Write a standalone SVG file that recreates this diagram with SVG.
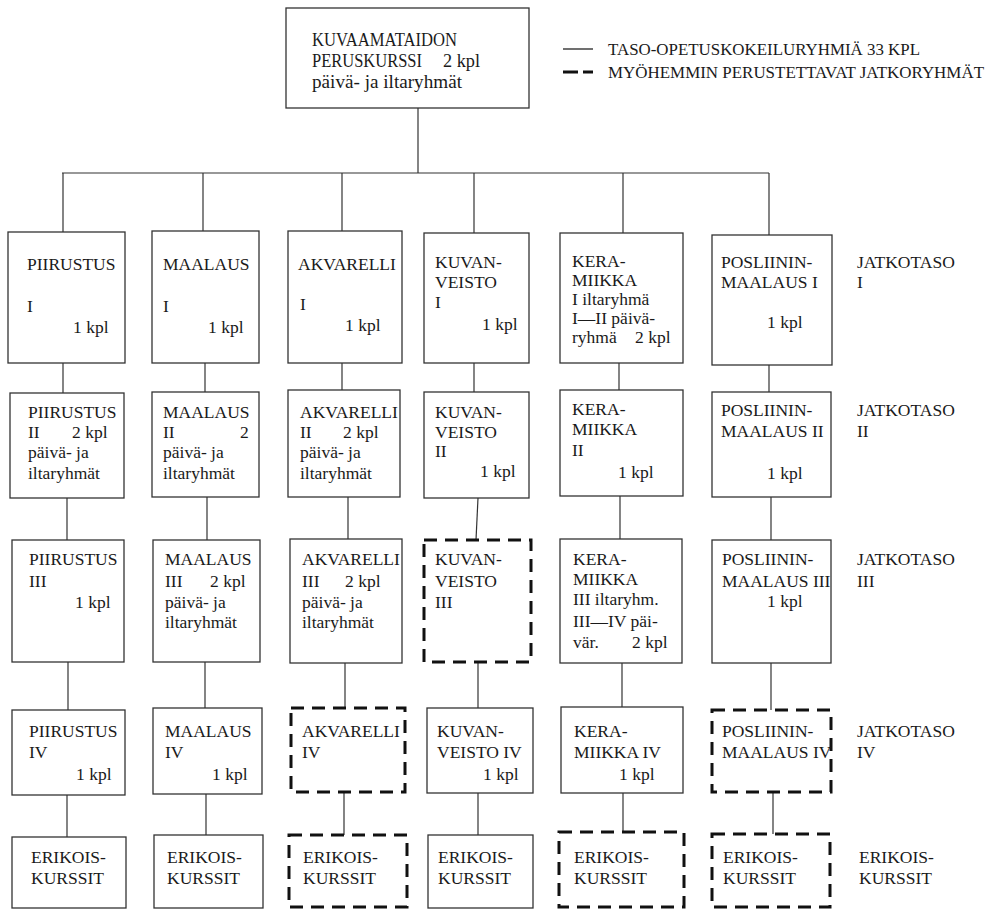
<svg xmlns="http://www.w3.org/2000/svg" width="996" height="910" viewBox="0 0 996 910">
<style>
  text { font-family: "Liberation Serif", "Times New Roman", serif; font-size: 17.5px; fill: #1a1a1a; }
  .big { font-size: 19px; }
  .leg { font-size: 16.5px; }
  .box { fill: #fff; stroke: #333; stroke-width: 1.3; }
  .dash { fill: #fff; stroke: #111; stroke-width: 3; stroke-dasharray: 13 8; }
  .con { stroke: #333; stroke-width: 1.2; fill: none; }
</style>
<rect x="0" y="0" width="996" height="910" fill="#fff"/>

<g id="connectors">
  <line class="con" x1="418" y1="108" x2="418" y2="173"/>
  <line class="con" x1="62" y1="173" x2="769" y2="173"/>
  <line class="con" x1="63" y1="173" x2="63" y2="232"/>
  <line class="con" x1="203" y1="173" x2="203" y2="231"/>
  <line class="con" x1="342" y1="173" x2="342" y2="231"/>
  <line class="con" x1="474" y1="173" x2="474" y2="233"/>
  <line class="con" x1="623" y1="173" x2="623" y2="233"/>
  <line class="con" x1="769" y1="173" x2="769" y2="235"/>
  <line class="con" x1="63" y1="363" x2="63" y2="393"/>
  <line class="con" x1="205" y1="363" x2="205" y2="392"/>
  <line class="con" x1="342" y1="363" x2="342" y2="390"/>
  <line class="con" x1="474" y1="363" x2="474" y2="392"/>
  <line class="con" x1="619" y1="363" x2="619" y2="390"/>
  <line class="con" x1="769" y1="365" x2="769" y2="392"/>
  <line class="con" x1="67" y1="498" x2="67" y2="540"/>
  <line class="con" x1="207" y1="497" x2="207" y2="540"/>
  <line class="con" x1="348" y1="497" x2="348" y2="539"/>
  <line class="con" x1="478" y1="498" x2="476" y2="540"/>
  <line class="con" x1="620" y1="496" x2="620" y2="539"/>
  <line class="con" x1="771" y1="497" x2="771" y2="540"/>
  <line class="con" x1="68" y1="662" x2="68" y2="710"/>
  <line class="con" x1="205" y1="662" x2="205" y2="708"/>
  <line class="con" x1="345" y1="663" x2="345" y2="708"/>
  <line class="con" x1="478" y1="662" x2="478" y2="708"/>
  <line class="con" x1="622" y1="663" x2="622" y2="707"/>
  <line class="con" x1="771" y1="663" x2="771" y2="710"/>
  <line class="con" x1="67" y1="795" x2="67" y2="837"/>
  <line class="con" x1="206" y1="794" x2="206" y2="835"/>
  <line class="con" x1="344" y1="792" x2="344" y2="835"/>
  <line class="con" x1="478" y1="793" x2="478" y2="835"/>
  <line class="con" x1="623" y1="793" x2="623" y2="832"/>
  <line class="con" x1="773" y1="792" x2="773" y2="834"/>
</g>

<g id="legend">
  <line x1="563" y1="49" x2="593" y2="49" stroke="#222" stroke-width="1.3"/>
  <text x="608" y="55" class="leg" textLength="312" lengthAdjust="spacingAndGlyphs">TASO-OPETUSKOKEILURYHMIÄ 33 KPL</text>
  <line x1="563" y1="72" x2="593" y2="72" stroke="#111" stroke-width="3.2" stroke-dasharray="15 5"/>
  <text x="608" y="78" class="leg" textLength="376" lengthAdjust="spacingAndGlyphs">MYÖHEMMIN PERUSTETTAVAT JATKORYHMÄT</text>
</g>

<g id="top">
  <rect class="box" x="286" y="8" width="243" height="100"/>
  <text x="312" y="46" class="big" textLength="145" lengthAdjust="spacingAndGlyphs">KUVAAMATAIDON</text>
  <text x="312" y="67" class="big" textLength="110" lengthAdjust="spacingAndGlyphs">PERUSKURSSI</text>
  <text x="443" y="67" class="big" textLength="37" lengthAdjust="spacingAndGlyphs">2 kpl</text>
  <text x="312" y="88" class="big" textLength="150" lengthAdjust="spacingAndGlyphs">päivä- ja iltaryhmät</text>
</g>

<!-- Row 1 -->
<g id="piirustus1">
  <rect class="box" x="8" y="232" width="117" height="131"/>
  <text x="27" y="270">PIIRUSTUS</text><text x="27" y="312">I</text><text x="73" y="333">1 kpl</text>
</g>
<g id="maalaus1">
  <rect class="box" x="152" y="231" width="107" height="132"/>
  <text x="163" y="270">MAALAUS</text><text x="163" y="312">I</text><text x="208" y="333">1 kpl</text>
</g>
<g id="akvarelli1">
  <rect class="box" x="288" y="231" width="114" height="132"/>
  <text x="298" y="270">AKVARELLI</text><text x="300" y="310">I</text><text x="345" y="331">1 kpl</text>
</g>
<g id="kuvanveisto1">
  <rect class="box" x="424" y="233" width="105" height="130"/>
  <text x="435" y="268">KUVAN-</text><text x="435" y="288">VEISTO</text><text x="435" y="308">I</text><text x="482" y="330">1 kpl</text>
</g>
<g id="keramiikka1">
  <rect class="box" x="560" y="233" width="123" height="130"/>
  <text x="572" y="267">KERA-</text><text x="572" y="286">MIIKKA</text><text x="572" y="305">I iltaryhmä</text>
  <text x="572" y="324">I—II päivä-</text><text x="572" y="343">ryhmä</text><text x="635" y="343">2 kpl</text>
</g>
<g id="posliini1">
  <rect class="box" x="712" y="235" width="120" height="130"/>
  <text x="721" y="268">POSLIININ-</text><text x="721" y="288">MAALAUS I</text><text x="767" y="328">1 kpl</text>
</g>
<g id="jatkotaso1"><text x="857" y="268">JATKOTASO</text><text x="857" y="288">I</text></g>

<!-- Row 2 -->
<g id="piirustus2">
  <rect class="box" x="10" y="393" width="114" height="105"/>
  <text x="28" y="418">PIIRUSTUS</text><text x="28" y="438">II</text><text x="72" y="438">2 kpl</text>
  <text x="28" y="458">päivä- ja</text><text x="28" y="479">iltaryhmät</text>
</g>
<g id="maalaus2">
  <rect class="box" x="152" y="392" width="107" height="105"/>
  <text x="163" y="418">MAALAUS</text><text x="163" y="438">II</text><text x="240" y="438">2</text>
  <text x="163" y="458">päivä- ja</text><text x="163" y="479">iltaryhmät</text>
</g>
<g id="akvarelli2">
  <rect class="box" x="288" y="390" width="112" height="107"/>
  <text x="300" y="418">AKVARELLI</text><text x="300" y="438">II</text><text x="343" y="438">2 kpl</text>
  <text x="300" y="458">päivä- ja</text><text x="300" y="479">iltaryhmät</text>
</g>
<g id="kuvanveisto2">
  <rect class="box" x="424" y="392" width="105" height="106"/>
  <text x="435" y="418">KUVAN-</text><text x="435" y="438">VEISTO</text><text x="435" y="457">II</text><text x="480" y="477">1 kpl</text>
</g>
<g id="keramiikka2">
  <rect class="box" x="560" y="390" width="123" height="106"/>
  <text x="572" y="415">KERA-</text><text x="572" y="435">MIIKKA</text><text x="572" y="456">II</text><text x="618" y="478">1 kpl</text>
</g>
<g id="posliini2">
  <rect class="box" x="712" y="392" width="119" height="105"/>
  <text x="721" y="416">POSLIININ-</text><text x="721" y="437">MAALAUS II</text><text x="767" y="479">1 kpl</text>
</g>
<g id="jatkotaso2"><text x="857" y="416">JATKOTASO</text><text x="857" y="437">II</text></g>

<!-- Row 3 -->
<g id="piirustus3">
  <rect class="box" x="12" y="540" width="112" height="122"/>
  <text x="29" y="565">PIIRUSTUS</text><text x="29" y="587">III</text><text x="75" y="608">1 kpl</text>
</g>
<g id="maalaus3">
  <rect class="box" x="153" y="540" width="107" height="122"/>
  <text x="165" y="565">MAALAUS</text><text x="165" y="587">III</text><text x="210" y="587">2 kpl</text>
  <text x="165" y="608">päivä- ja</text><text x="165" y="628">iltaryhmät</text>
</g>
<g id="akvarelli3">
  <rect class="box" x="290" y="539" width="112" height="124"/>
  <text x="302" y="565">AKVARELLI</text><text x="302" y="587">III</text><text x="345" y="587">2 kpl</text>
  <text x="302" y="608">päivä- ja</text><text x="302" y="628">iltaryhmät</text>
</g>
<g id="kuvanveisto3">
  <rect class="dash" x="424" y="540" width="107" height="122"/>
  <text x="435" y="565">KUVAN-</text><text x="435" y="587">VEISTO</text><text x="435" y="608">III</text>
</g>
<g id="keramiikka3">
  <rect class="box" x="560" y="539" width="122" height="124"/>
  <text x="573" y="565">KERA-</text><text x="573" y="585">MIIKKA</text><text x="573" y="605">III iltaryhm.</text>
  <text x="573" y="627">III—IV päi-</text><text x="573" y="648">vär.</text><text x="632" y="648">2 kpl</text>
</g>
<g id="posliini3">
  <rect class="box" x="712" y="540" width="119" height="123"/>
  <text x="722" y="565">POSLIININ-</text><text x="722" y="587">MAALAUS III</text><text x="767" y="607">1 kpl</text>
</g>
<g id="jatkotaso3"><text x="857" y="565">JATKOTASO</text><text x="857" y="587">III</text></g>

<!-- Row 4 -->
<g id="piirustus4">
  <rect class="box" x="12" y="710" width="113" height="85"/>
  <text x="29" y="737">PIIRUSTUS</text><text x="29" y="758">IV</text><text x="76" y="780">1 kpl</text>
</g>
<g id="maalaus4">
  <rect class="box" x="153" y="708" width="109" height="86"/>
  <text x="165" y="737">MAALAUS</text><text x="165" y="758">IV</text><text x="212" y="780">1 kpl</text>
</g>
<g id="akvarelli4">
  <rect class="dash" x="291" y="708" width="114" height="84"/>
  <text x="302" y="737">AKVARELLI</text><text x="302" y="758">IV</text>
</g>
<g id="kuvanveisto4">
  <rect class="box" x="427" y="708" width="106" height="85"/>
  <text x="437" y="737">KUVAN-</text><text x="437" y="758">VEISTO IV</text><text x="483" y="780">1 kpl</text>
</g>
<g id="keramiikka4">
  <rect class="box" x="561" y="707" width="122" height="86"/>
  <text x="574" y="737">KERA-</text><text x="574" y="758">MIIKKA IV</text><text x="619" y="780">1 kpl</text>
</g>
<g id="posliini4">
  <rect class="dash" x="712" y="710" width="119" height="82"/>
  <text x="722" y="737">POSLIININ-</text><text x="722" y="758">MAALAUS IV</text>
</g>
<g id="jatkotaso4"><text x="857" y="737">JATKOTASO</text><text x="857" y="758">IV</text></g>

<!-- Row 5 -->
<g id="erikois1">
  <rect class="box" x="12" y="837" width="114" height="71"/>
  <text x="31" y="863">ERIKOIS-</text><text x="31" y="884">KURSSIT</text>
</g>
<g id="erikois2">
  <rect class="box" x="154" y="835" width="109" height="73"/>
  <text x="167" y="863">ERIKOIS-</text><text x="167" y="884">KURSSIT</text>
</g>
<g id="erikois3">
  <rect class="dash" x="289" y="835" width="118" height="72"/>
  <text x="303" y="863">ERIKOIS-</text><text x="303" y="884">KURSSIT</text>
</g>
<g id="erikois4">
  <rect class="box" x="428" y="835" width="105" height="73"/>
  <text x="438" y="863">ERIKOIS-</text><text x="438" y="884">KURSSIT</text>
</g>
<g id="erikois5">
  <rect class="dash" x="559" y="832" width="125" height="75"/>
  <text x="574" y="863">ERIKOIS-</text><text x="574" y="884">KURSSIT</text>
</g>
<g id="erikois6">
  <rect class="dash" x="712" y="834" width="118" height="73"/>
  <text x="723" y="863">ERIKOIS-</text><text x="723" y="884">KURSSIT</text>
</g>
<g id="erikois-label"><text x="859" y="863">ERIKOIS-</text><text x="859" y="884">KURSSIT</text></g>
</svg>
